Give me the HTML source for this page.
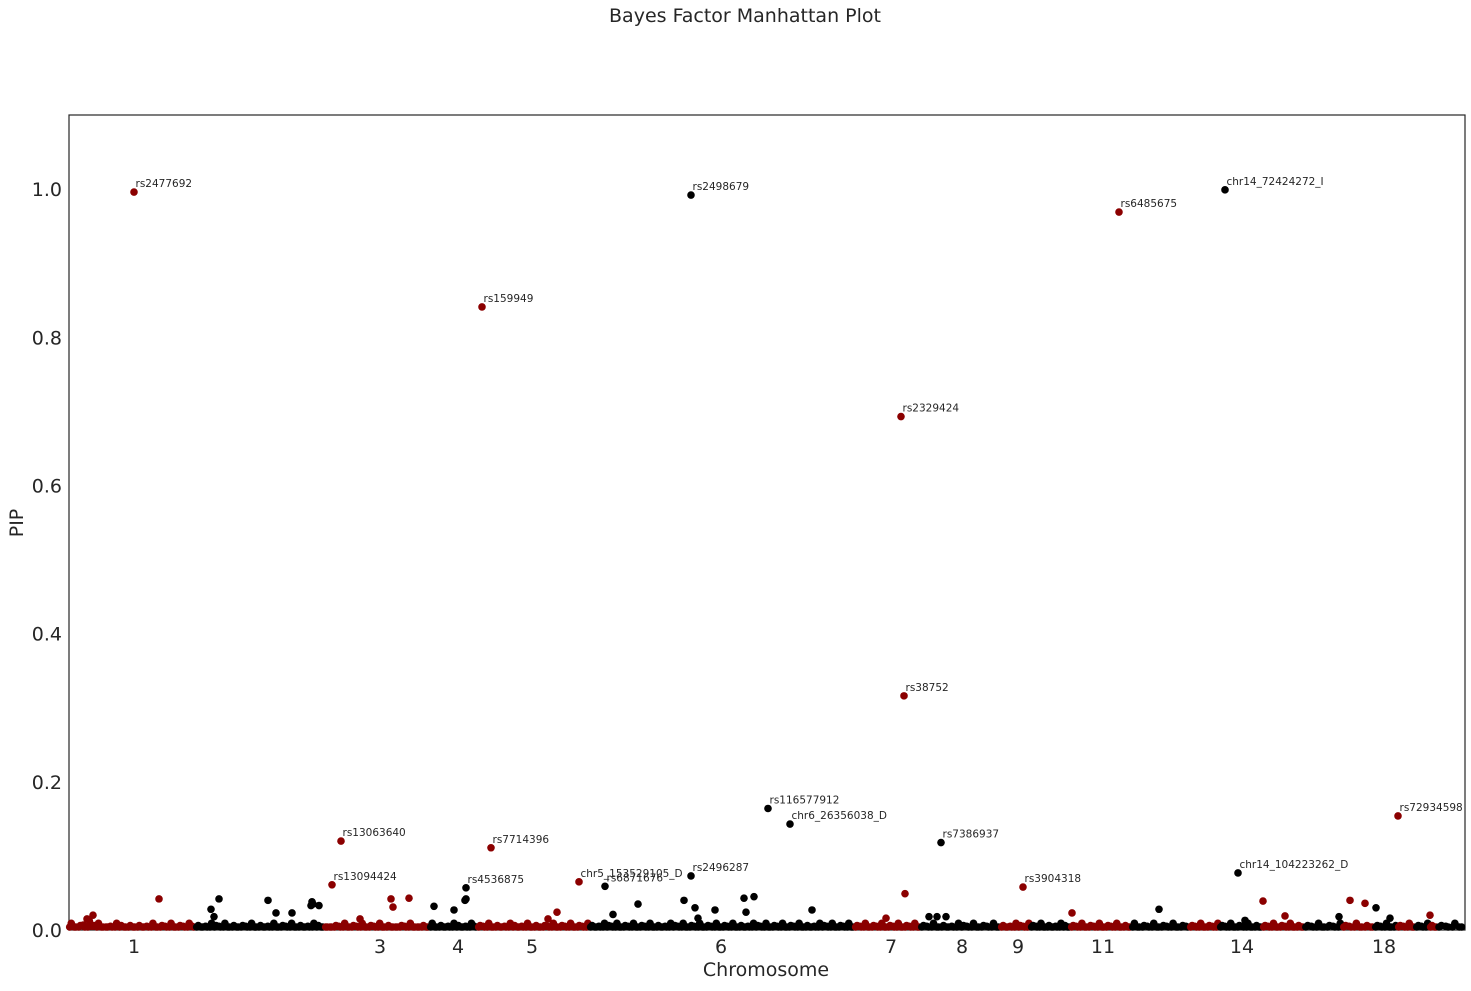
<!DOCTYPE html>
<html><head><meta charset="utf-8">
<style>
body{margin:0;background:#fff;font-family:"Liberation Sans","DejaVu Sans",sans-serif;}
svg text{font-family:"DejaVu Sans","Liberation Sans",sans-serif;fill:#262626;}
</style></head>
<body>
<svg id="chart" width="1471" height="986" xmlns="http://www.w3.org/2000/svg">
<text x="745" y="22" font-size="19" text-anchor="middle">Bayes Factor Manhattan Plot</text>
<rect x="69" y="115" width="1396" height="815" fill="none" stroke="#262626" stroke-width="1.2"/>
<g id="marks"></g>
<g id="axes"></g>
<text x="766" y="976" font-size="19" text-anchor="middle">Chromosome</text>
<text transform="translate(23,523) rotate(-90)" font-size="19" text-anchor="middle">PIP</text>
</svg>
<script>
// genomic coordinate units (0..1396)
const chromStarts = [0,127,256,361,409,521,786,852,932,962,1002,1063,1121,1151,1194,1236,1274,1306,1329,1347,1361,1369];
const chromEnds   = [127,256,361,409,521,786,852,932,962,1002,1063,1121,1151,1194,1236,1274,1306,1329,1347,1361,1369,1396];
const tickLabels = ["1","3","4","5","6","7","8","9","11","14","18"];
const tickPos = [65,311,389,463,652,822,893,949,1034,1173,1315];
const yTicks = [0,0.2,0.4,0.6,0.8,1.0];
const yTickLabels = ["0.0","0.2","0.4","0.6","0.8","1.0"];
// labelled SNPs
const snpNames = ["rs2477692","rs2498679","chr14_72424272_I","rs6485675","rs159949","rs2329424","rs38752","rs116577912","chr6_26356038_D","rs72934598","rs13063640","rs7386937","rs7714396","rs2496287","chr14_104223262_D","rs13094424","rs4536875","chr5_153529105_D","rs6871676","rs3904318"];
const snpPos = [65,622,1156,1050,413,832,835,699,721,1329,272,872,422,622,1169,263,397,510,536,954];
const snpPip = [0.996,0.992,0.999,0.969,0.841,0.693,0.316,0.164,0.143,0.154,0.120,0.118,0.111,0.073,0.077,0.061,0.057,0.065,0.059,0.058];
// other visible points
const otherPos = [90,24,18,142,150,145,199,207,223,243,242,244,250,322,324,340,291,365,385,397,396,488,479,569,615,626,646,675,685,677,743,544,629,836,817,860,868,877,1003,1090,1194,1176,1216,1281,1296,1307,1321,1361,1270];
const otherPip = [0.042,0.020,0.015,0.028,0.042,0.018,0.040,0.023,0.023,0.038,0.033,0.035,0.033,0.042,0.031,0.043,0.015,0.032,0.027,0.042,0.040,0.024,0.015,0.035,0.040,0.030,0.027,0.043,0.045,0.024,0.027,0.021,0.016,0.049,0.016,0.018,0.018,0.018,0.023,0.028,0.039,0.013,0.019,0.040,0.036,0.030,0.016,0.020,0.018];
// baseline low-PIP points per chromosome (PIP x 333, one digit each)
const baseline = ["3120423101321202103121302130","21032130212031201302130210320","102130213021302102131021","30210321031","21302103210312021302130213","2103213021302130210321302130213021302103213021302130210321302130","2130213021302130","2130210321302130","2103213","2130210321","21302130213021","302130213021","2130213","2130213021","2130213021","2130213","213021","21302","2130","213","21","2130"];

const X0=69, X1=1465, Y0=930, Y1=115;
const xs = v => X0 + v*(X1-X0)/1396;
const ys = v => Y0 - v*(Y0-Y1)/1.1;
const NS="http://www.w3.org/2000/svg";
const marks=document.getElementById('marks'), axes=document.getElementById('axes');
function chromOf(p){for(let i=0;i<chromStarts.length;i++){if(p<chromEnds[i])return i;}return chromStarts.length-1;}
function col(i){return i%2===0?'#8b0000':'#000000';}
function dot(p,v,name){
  const c=document.createElementNS(NS,'circle');
  c.setAttribute('cx',xs(p));c.setAttribute('cy',Math.min(ys(v),927));c.setAttribute('r',3.8);
  c.setAttribute('fill',col(chromOf(p)));
  
  
  marks.appendChild(c);
}
baseline.forEach((s,ci)=>{
  const n=s.length, a=chromStarts[ci], b=chromEnds[ci];
  const step=(b-a)/n;
  for(let k=0;k<n;k++){
    dot(a+step*(k+0.5), Number(s[k])/333, 'baseline-point');
    dot(a+step*(k+0.15), Number(s[(k+1)%n])/600, 'baseline-point');
  }
});
otherPos.forEach((p,i)=>dot(p,otherPip[i],'snp-point'));
snpPos.forEach((p,i)=>{
  dot(p,snpPip[i],'snp-point-'+snpNames[i]);
  const t=document.createElementNS(NS,'text');
  t.setAttribute('x',xs(p)+1.5);t.setAttribute('y',ys(snpPip[i])-5);t.setAttribute('font-size','10.5');
  t.textContent=snpNames[i];
  
  
  marks.appendChild(t);
});
yTicks.forEach((v,i)=>{
  const t=document.createElementNS(NS,'text');
  t.setAttribute('x',62);t.setAttribute('y',ys(v)+7);t.setAttribute('font-size','19');t.setAttribute('text-anchor','end');
  t.textContent=yTickLabels[i];
  
  
  axes.appendChild(t);
});
tickPos.forEach((p,i)=>{
  const t=document.createElementNS(NS,'text');
  t.setAttribute('x',xs(p));t.setAttribute('y',953);t.setAttribute('font-size','19');t.setAttribute('text-anchor','middle');
  t.textContent=tickLabels[i];
  
  
  axes.appendChild(t);
});
</script>
</body></html>
